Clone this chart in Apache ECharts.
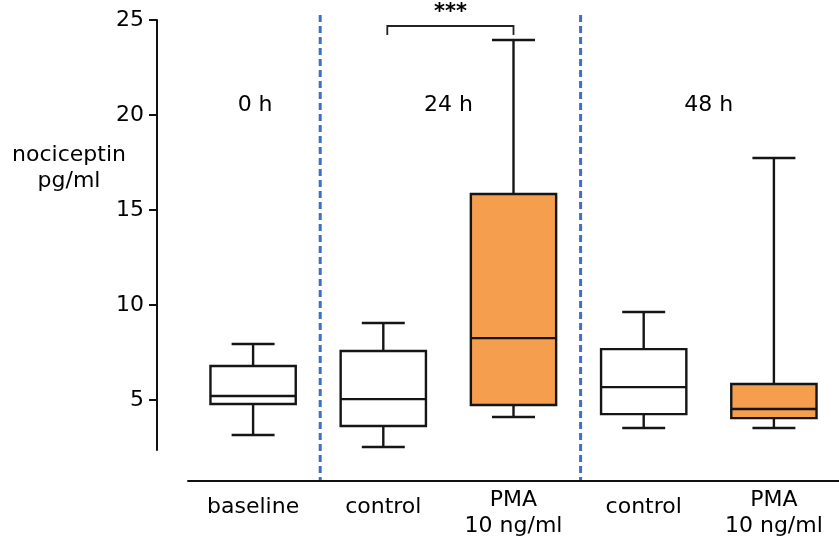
<!DOCTYPE html>
<html>
<head>
<meta charset="utf-8">
<script src="https://cdn.jsdelivr.net/npm/echarts@6/dist/echarts.min.js"></script>
<style>
  html, body { margin: 0; padding: 0; background: #fff; }
  #main { width: 839px; height: 547px; }
</style>
</head>
<body>
<div id="main"></div>
<script>
// categories and box statistics
var categories = ['baseline', 'control', 'PMA\n10 ng/ml', 'control', 'PMA\n10 ng/ml'];
var whiskerLow = [3.16, 2.53, 4.11, 3.53, 3.53];
var quartile1 = [4.79, 3.63, 4.74, 4.26, 4.05];
var medians = [5.21, 5.05, 8.26, 5.68, 4.53];
var quartile3 = [6.79, 7.58, 15.84, 7.68, 5.84];
var whiskerHigh = [7.95, 9.05, 23.95, 9.63, 17.74];
var yTicks = [5, 10, 15, 20, 25];
var timeLabels = ['0 h', '24 h', '48 h'];

var FONT = 'DejaVu Sans';
var FS = 22;

var boxes = categories.map(function (c, i) {
    return [i, whiskerLow[i], quartile1[i], medians[i], quartile3[i], whiskerHigh[i]];
});

var myChart = echarts.init(document.getElementById('main'));

var option = {
    animation: false,
    grid: { left: 188, right: -8, top: 20, bottom: 97 },
    xAxis: {
        type: 'category',
        data: categories,
        offset: 31,
        axisLine: { lineStyle: { color: '#111', width: 2 } },
        axisTick: { show: false },
        axisLabel: {
            interval: 0,
            margin: 6,
            color: '#000',
            fontFamily: FONT,
            fontSize: FS,
            lineHeight: 26,
            formatter: function (v) {
                return v.indexOf('\n') < 0 ? '{one|' + v + '}' : v;
            },
            rich: {
                one: { fontFamily: FONT, fontSize: FS, lineHeight: 26, padding: [14, 0, 0, 0], color: '#000' }
            }
        },
        splitLine: { show: false }
    },
    yAxis: {
        type: 'value',
        min: 2.37,
        max: 25,
        offset: 31,
        axisLine: { show: true, lineStyle: { color: '#111', width: 2 } },
        axisTick: { show: true, length: 8, lineStyle: { width: 2, color: '#111' }, customValues: yTicks },
        axisLabel: { color: '#000', fontFamily: FONT, fontSize: FS, margin: 13, customValues: yTicks },
        splitLine: { show: false }
    },
    series: [{
        type: 'custom',
        data: boxes,
        encode: { x: 0, y: [1, 2, 3, 4, 5] },
        renderItem: function (params, api) {
            var i = api.value(0);
            var band = api.size([1, 0])[0];
            var x = api.coord([i, 0])[0];
            var boxW = band * 0.655;
            var capW = band * 0.33;
            var yLo = api.coord([i, api.value(1)])[1];
            var yQ1 = api.coord([i, api.value(2)])[1];
            var yMed = api.coord([i, api.value(3)])[1];
            var yQ3 = api.coord([i, api.value(4)])[1];
            var yHi = api.coord([i, api.value(5)])[1];
            var stroke = { stroke: '#151515', lineWidth: 2.4 };
            var fill = categories[i].indexOf('PMA') === 0 ? '#f59e4d' : '#fff';
            return {
                type: 'group',
                children: [
                    { type: 'line', shape: { x1: x, y1: yHi, x2: x, y2: yQ3 }, style: stroke },
                    { type: 'line', shape: { x1: x, y1: yQ1, x2: x, y2: yLo }, style: stroke },
                    { type: 'line', shape: { x1: x - capW / 2, y1: yHi, x2: x + capW / 2, y2: yHi }, style: stroke },
                    { type: 'line', shape: { x1: x - capW / 2, y1: yLo, x2: x + capW / 2, y2: yLo }, style: stroke },
                    { type: 'rect', shape: { x: x - boxW / 2, y: yQ3, width: boxW, height: yQ1 - yQ3 },
                      style: { fill: fill, stroke: '#151515', lineWidth: 2.4 } },
                    { type: 'line', shape: { x1: x - boxW / 2, y1: yMed, x2: x + boxW / 2, y2: yMed }, style: stroke }
                ]
            };
        }
    }]
};

myChart.setOption(option);

// separators, time labels, significance bracket and axis title
var px = function (i) { return myChart.convertToPixel({ xAxisIndex: 0 }, i); };
var sep1 = (px(0) + px(1)) / 2 + 2;
var sep2 = (px(2) + px(3)) / 2 + 2;
var dash = { stroke: '#3e6fc7', lineWidth: 3, lineDash: [7, 4] };
var txt = function (t, x, y, size, weight) {
    return { type: 'text', x: x, y: y,
             style: { text: t, fill: '#000', font: (weight || 'normal') + ' ' + size + 'px "' + FONT + '"',
                      align: 'center', verticalAlign: 'middle' } };
};
var bx1 = px(1) + 4, bx2 = px(2);

myChart.setOption({
    graphic: [
        { type: 'line', shape: { x1: sep1, y1: 15, x2: sep1, y2: 480 }, style: dash },
        { type: 'line', shape: { x1: sep2, y1: 15, x2: sep2, y2: 480 }, style: dash },
        txt(timeLabels[0], px(0) + 2, 105, FS),
        txt(timeLabels[1], (px(1) + px(2)) / 2, 105, FS),
        txt(timeLabels[2], (px(3) + px(4)) / 2, 105, FS),
        { type: 'polyline', shape: { points: [[bx1, 35], [bx1, 26], [bx2, 26], [bx2, 35]] },
          style: { stroke: '#222', lineWidth: 1.8, fill: null } },
        txt('***', (bx1 + bx2) / 2, 13, 21, 'bold'),
        txt('nociceptin', 69, 155, FS),
        txt('pg/ml', 69, 181, FS)
    ]
});
</script>
</body>
</html>
